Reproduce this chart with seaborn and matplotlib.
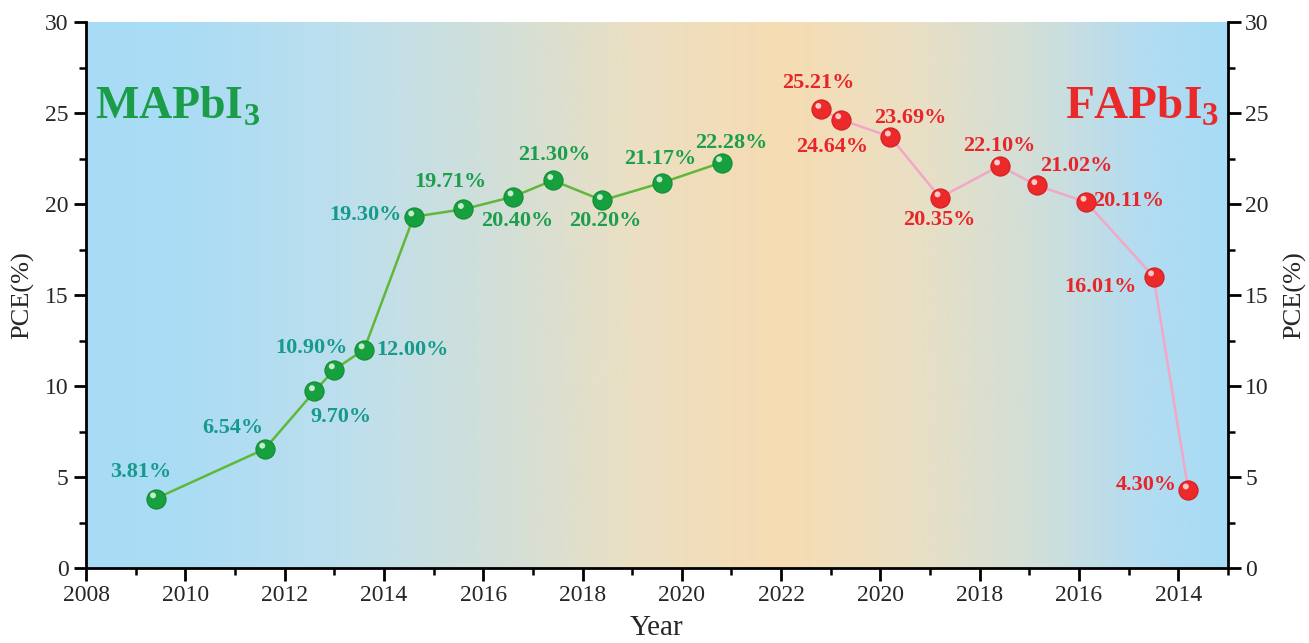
import numpy as np
import pandas as pd
import matplotlib
matplotlib.use("Agg")
import matplotlib.pyplot as plt
from matplotlib.colors import LinearSegmentedColormap
from matplotlib.ticker import MultipleLocator, FixedLocator, FixedFormatter
import seaborn as sns

# ---------------- data ----------------
ma_year = [2009.4, 2011.6, 2012.6, 2013.0, 2013.6, 2014.6, 2015.6, 2016.6, 2017.4, 2018.4, 2019.6, 2020.8]
ma_pce = [3.81, 6.54, 9.70, 10.90, 12.00, 19.30, 19.71, 20.40, 21.30, 20.20, 21.17, 22.28]
ma_labels = ["3.81%", "6.54%", "9.70%", "10.90%", "12.00%", "19.30%", "19.71%",
             "20.40%", "21.30%", "20.20%", "21.17%", "22.28%"]

fa_year = [2021.2, 2020.8, 2019.8, 2018.8, 2017.6, 2016.85, 2015.86, 2014.5, 2013.8]
fa_pce = [25.21, 24.64, 23.69, 20.35, 22.10, 21.02, 20.11, 16.01, 4.30]
fa_labels = ["25.21%", "24.64%", "23.69%", "20.35%", "22.10%", "21.02%", "20.11%", "16.01%", "4.30%"]

mirror_year = 2022
x_tick_pos = [2008, 2010, 2012, 2014, 2016, 2018, 2020, 2022, 2024, 2026, 2028, 2030]
x_tick_labels = ["2008", "2010", "2012", "2014", "2016", "2018", "2020", "2022",
                 "2020", "2018", "2016", "2014"]

# ---------------- styles / positions ----------------
ma_offsets = [(-15, 27), (-32, 21), (27, -26), (-23, 22), (48, 0), (-48, 2),
              (-13, 27), (4, -24), (2, 25), (3, -21), (-2, 24), (10, 20)]
fa_offsets = [(-3, 26), (-9, -27), (20, 19), (-1, -22), (0, 20), (39, 19),
              (43, 1), (-53, -10), (-42, 5)]
ma_label_colors = ["#169a8c"] * 6 + ["#1c9e4c"] * 6
fa_label_color = "#e8262a"

sns.set_style("ticks")
plt.rcParams["font.family"] = ["Liberation Serif", "DejaVu Serif"]
plt.rcParams["mathtext.fontset"] = "custom"
plt.rcParams["mathtext.rm"] = "Liberation Serif"
plt.rcParams["mathtext.bf"] = "Liberation Serif:bold"

fig = plt.figure(figsize=(13.09, 6.43), dpi=100)
ax = fig.add_axes([86 / 1309, 75 / 643, (1228 - 86) / 1309, (568 - 22) / 643])

# background gradient
cmap = LinearSegmentedColormap.from_list(
    "bg",
    [(0.0, "#a8dcf6"), (0.08, "#aadcf5"), (0.22, "#bcdfee"), (0.36, "#d2dfd8"),
     (0.48, "#ebdfc3"), (0.61, "#f6dcb2"), (0.72, "#ebdfc3"), (0.83, "#d2dfd8"),
     (0.92, "#b5dcf0"), (1.0, "#a6dcf6")])
grad = np.linspace(0, 1, 512).reshape(1, -1)
ax.imshow(grad, extent=[2008, 2031, 0, 30], aspect="auto", cmap=cmap, zorder=0,
          interpolation="bicubic")

ma_df = pd.DataFrame({"x": ma_year, "y": ma_pce})
fa_df = pd.DataFrame({"x": [2 * mirror_year - v for v in fa_year], "y": fa_pce})

sns.lineplot(data=ma_df, x="x", y="y", ax=ax, color="#5fb83a", lw=1.8, sort=False, zorder=2)
sns.lineplot(data=fa_df, x="x", y="y", ax=ax, color="#f2a7c6", lw=1.8, sort=False, zorder=2)
sns.scatterplot(data=ma_df, x="x", y="y", ax=ax, s=190, color="#17a03e",
                edgecolor="#128a34", linewidth=0.8, zorder=3)
sns.scatterplot(data=fa_df, x="x", y="y", ax=ax, s=190, color="#ec2a2a",
                edgecolor="#d01f22", linewidth=0.8, zorder=3)
# highlights for sphere look
ax.scatter(ma_df["x"] - 0.05, ma_df["y"] + 0.18, s=18, color="#c6ecd0", edgecolor="none", zorder=4)
ax.scatter(fa_df["x"] - 0.05, fa_df["y"] + 0.18, s=18, color="#ffc8c8", edgecolor="none", zorder=4)

for xv, yv, lab, off, col in zip(ma_df["x"], ma_df["y"], ma_labels, ma_offsets, ma_label_colors):
    ax.annotate(lab, (xv, yv), xytext=off, textcoords="offset pixels", ha="center", va="center",
                fontsize=16, fontweight="bold", color=col, zorder=5)
for xv, yv, lab, off in zip(fa_df["x"], fa_df["y"], fa_labels, fa_offsets):
    ax.annotate(lab, (xv, yv), xytext=off, textcoords="offset pixels", ha="center", va="center",
                fontsize=16, fontweight="bold", color=fa_label_color, zorder=5)

ax.text(0.008, 0.845, r"MAPbI$_\mathbf{3}$", transform=ax.transAxes, fontsize=33,
        fontweight="bold", color="#1a9c48", ha="left", va="center")
ax.text(0.992, 0.845, r"FAPbI$_\mathbf{3}$", transform=ax.transAxes, fontsize=34,
        fontweight="bold", color="#ea2a2a", ha="right", va="center")

ax.set_xlim(2008, 2031)
ax.set_ylim(0, 30)
ax.xaxis.set_major_locator(FixedLocator(x_tick_pos))
ax.xaxis.set_major_formatter(FixedFormatter(x_tick_labels))
ax.xaxis.set_minor_locator(MultipleLocator(1))
ax.yaxis.set_major_locator(MultipleLocator(5))
ax.yaxis.set_minor_locator(MultipleLocator(2.5))
ax.tick_params(axis="both", which="major", length=9, width=2, labelsize=17, direction="out", color="black")
ax.tick_params(axis="both", which="minor", length=5, width=1.8, direction="out", color="black")
ax.tick_params(axis="y", which="both", right=True, labelright=True)
for side in ["left", "right", "bottom"]:
    ax.spines[side].set_visible(True)
    ax.spines[side].set_linewidth(2)
    ax.spines[side].set_color("black")
ax.spines["top"].set_visible(False)

ax.set_xlabel("Year", fontsize=21, labelpad=6)
ax.set_ylabel("PCE(%)", fontsize=19, labelpad=8)
fig.text(1295 / 1309, (643 - 295) / 643, "PCE(%)", rotation=90, fontsize=19, ha="center", va="center")

fig.savefig("out.png", dpi=100)
